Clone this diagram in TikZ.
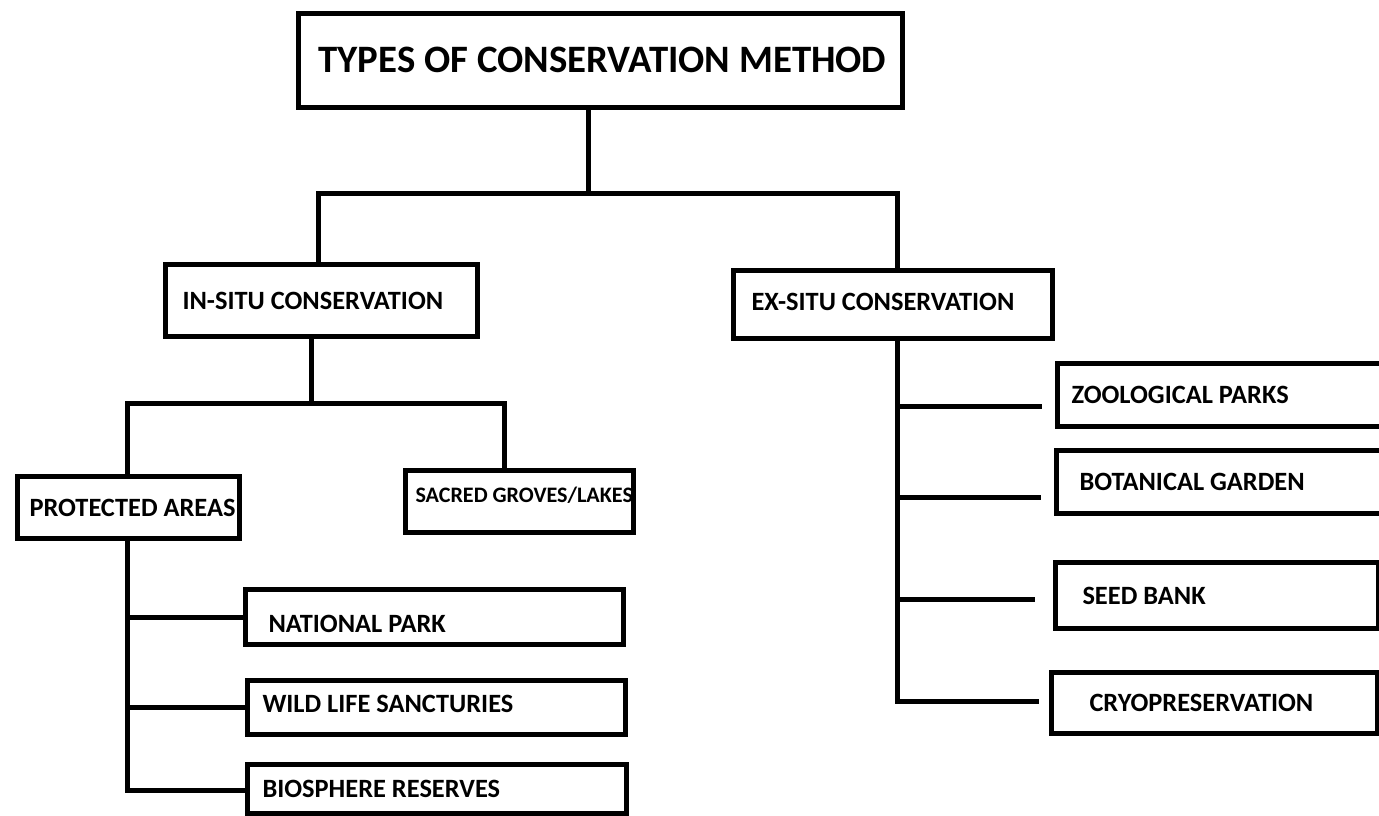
\documentclass[tikz,border=0pt]{standalone}
\usepackage{fontspec}
\setmainfont{Carlito}
\usetikzlibrary{calc}
\tikzset{
  box/.style={draw=black, line width=5pt, inner sep=0pt, fill=white},
  ln/.style={draw=black, line width=5pt, line join=miter}
}
\newcommand\fmain{\fontsize{26.4}{31}\selectfont\bfseries}
\newcommand\ftitle{\fontsize{38.8}{44}\selectfont\bfseries}
\newcommand\fsmall{\fontsize{22.1}{26}\selectfont\bfseries}
% name, x1, y1, x2, y2, left offset, raise, font, text
\newcommand\cbox[9]{%
  \node[box, anchor=north west,
        minimum width={#4pt-#2pt}, minimum height={#5pt-#3pt}]
    (#1) at (#2,#3)
    {#8\raisebox{#7pt}[\fontcharht\font`H][0pt]{\makebox[\dimexpr #4pt-#2pt-#6pt-#6pt\relax][l]{#9}}};}
\begin{document}
\begin{tikzpicture}[x=1pt,y=-1pt]
\clip (0,0) rectangle (1379,815);
\fill[white] (0,0) rectangle (1379,815);

\cbox{title}{296}{11}{900}{105}{20}{1}{\ftitle}{TYPES OF CONSERVATION METHOD}
\cbox{insitu}{163}{262}{475}{334}{17}{0}{\fmain}{IN-SITU CONSERVATION}
\cbox{exsitu}{731}{268}{1050}{336}{18}{3}{\fmain}{EX-SITU CONSERVATION}
\cbox{prot}{15}{474}{237}{536}{12}{0}{\fmain}{PROTECTED AREAS}
\cbox{sacred}{403}{468}{631}{530}{10}{6}{\fsmall}{SACRED GROVES/LAKES}
\cbox{zoo}{1055}{361}{1400}{424}{14}{0}{\fmain}{ZOOLOGICAL PARKS}
\cbox{bot}{1054}{448}{1400}{511}{23}{0}{\fmain}{BOTANICAL GARDEN}
\cbox{seed}{1053}{560}{1376}{626}{27}{0}{\fmain}{SEED BANK}
\cbox{cryo}{1049}{670}{1375}{731}{38}{0}{\fmain}{CRYOPRESERVATION}
\cbox{natpark}{243}{587}{621}{642}{23}{-7}{\fmain}{NATIONAL PARK}
\cbox{wild}{245}{678}{623}{732}{15}{4}{\fmain}{WILD LIFE SANCTURIES}
\cbox{bios}{245}{762}{624}{811}{15}{0}{\fmain}{BIOSPHERE RESERVES}

% top level
\coordinate (j1) at (588,193);
\coordinate (hl) at (318,193);
\coordinate (hr) at (897,193);
\draw[ln] (title.south -| j1) -- (j1);
\draw[ln] (insitu.north -| hl) -- (hl) -- (hr) -- (exsitu.north -| hr);

% in-situ
\coordinate (i1) at (311,403);
\coordinate (il) at (127,403);
\coordinate (ir) at (504,403);
\draw[ln] (insitu.south -| i1) -- (i1);
\draw[ln] (prot.north -| il) -- (il) -- (ir) -- (sacred.north -| ir);

% protected areas
\coordinate (pv) at (127,790);
\draw[ln] (prot.south -| pv) -- (pv) -- (pv -| bios.west);
\draw[ln] (pv |- natpark.west) -- (natpark.west);
\draw[ln] (pv |- wild.west) -- (wild.west);

% ex-situ
\coordinate (zooend) at (1042,406);
\coordinate (botend) at (1041,497);
\coordinate (seedend) at (1035,599);
\coordinate (cryoend) at (1039,701);
\coordinate (ev) at (897,701);
\draw[ln] (exsitu.south -| ev) -- (ev) -- (cryoend);
\draw[ln] (ev |- zooend) -- (zooend);
\draw[ln] (ev |- botend) -- (botend);
\draw[ln] (ev |- seedend) -- (seedend);
\end{tikzpicture}
\end{document}
